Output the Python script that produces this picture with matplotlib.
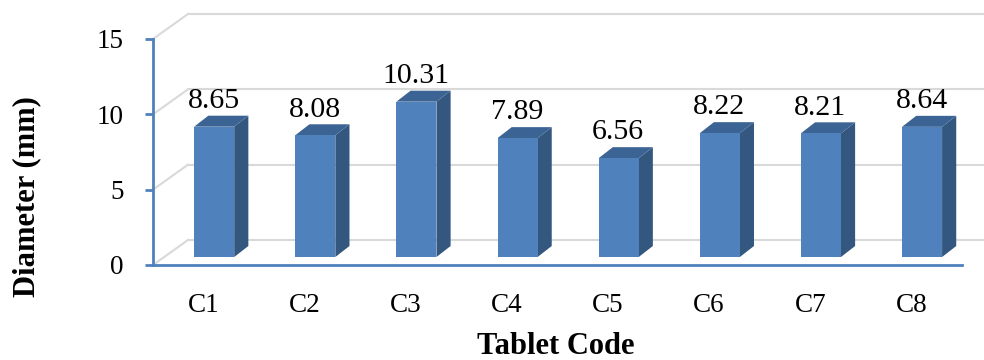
import numpy as np
import matplotlib.pyplot as plt

codes = ['C1', 'C2', 'C3', 'C4', 'C5', 'C6', 'C7', 'C8']
diameter = [8.65, 8.08, 10.31, 7.89, 6.56, 8.22, 8.21, 8.64]
yticks = [0, 5, 10, 15]

plt.rcParams['font.family'] = ['Liberation Serif', 'DejaVu Serif']

front_col = '#4F81BD'
side_col = '#34577F'
top_col = '#3B6393'
grid_col = '#D9D9D9'
axis_col = '#4F81BD'

# pseudo-3d offsets, in data units (x: category, y: value)
wall_dx, wall_dy = 0.346, 1.66
bar_dx0, bar_dy0 = 0.105, 0.53
bar_dx1, bar_dy1 = 0.245, 1.26
bar_w = 0.396

fig = plt.figure(figsize=(9.84, 3.6), dpi=100)
ax = fig.add_axes([153/984, 95/360, 809/984, 226/360])
ax.set_xlim(-0.5, 7.5)
ax.set_ylim(0, 15)
ax.patch.set_alpha(0)

x0, x1 = ax.get_xlim()
# back wall and side wall gridlines
for v in yticks:
    ax.plot([x0 + wall_dx, x1 + wall_dx], [v + wall_dy, v + wall_dy],
            color=grid_col, lw=1.5, clip_on=False, zorder=1)
    ax.plot([x0, x0 + wall_dx], [v, v + wall_dy],
            color=grid_col, lw=1.5, clip_on=False, zorder=1)

for i, v in enumerate(diameter):
    xl = i - bar_w / 2 + bar_dx0
    xr = xl + bar_w
    yb = bar_dy0
    yt = v + bar_dy0
    ddx = bar_dx1 - bar_dx0
    ddy = bar_dy1 - bar_dy0
    # side face
    ax.fill([xr, xr + ddx, xr + ddx, xr], [yb, yb + ddy, yt + ddy, yt],
            color=side_col, lw=0, clip_on=False, zorder=3)
    # top face
    ax.fill([xl, xr, xr + ddx, xl + ddx], [yt, yt, yt + ddy, yt + ddy],
            color=top_col, lw=0, clip_on=False, zorder=3)
    # front face
    ax.fill([xl, xr, xr, xl], [yb, yb, yt, yt],
            color=front_col, lw=0, clip_on=False, zorder=4)
    ax.text(i + 0.1, v + 1.77, f'{v:.2f}', ha='center', va='baseline',
            fontsize=21.5, color='black', zorder=5)

for s in ['top', 'right']:
    ax.spines[s].set_visible(False)
for s in ['left', 'bottom']:
    ax.spines[s].set_color(axis_col)
    ax.spines[s].set_linewidth(2)
    ax.spines[s].set_zorder(6)

ax.set_yticks(yticks)
ax.set_yticklabels([str(t) for t in yticks], fontsize=19.5)
ax.tick_params(axis='y', direction='out', length=6, width=2, color=axis_col, pad=15)
ax.set_xticks(np.arange(len(codes)))
ax.set_xticklabels(codes, fontsize=19.5)
ax.tick_params(axis='x', length=0, pad=20)

fig.text(27/984, 1 - 197/360, 'Diameter (mm)', rotation=90, ha='center', va='center',
         fontsize=22, fontweight='bold')
fig.text(556/984, 1 - 346/360, 'Tablet Code', ha='center', va='center',
         fontsize=22, fontweight='bold')

fig.savefig('out.png', dpi=100)
